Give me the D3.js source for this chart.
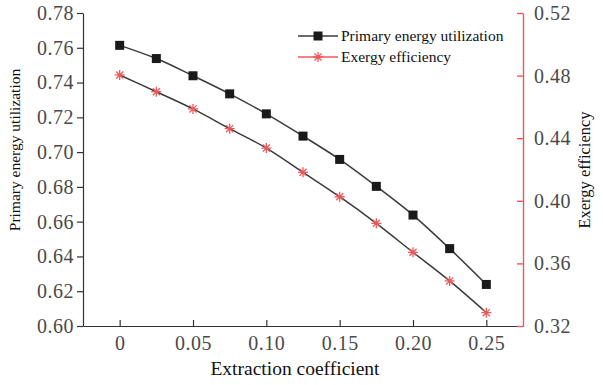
<!DOCTYPE html>
<html>
<head>
<meta charset="utf-8">
<script src="https://cdn.jsdelivr.net/npm/d3@7"></script>
<style>
  body { margin: 0; background: #fff; }
  svg { display: block; }
</style>
</head>
<body>
<script>
"use strict";

// chart values
const extraction = [0, 0.025, 0.05, 0.075, 0.10, 0.125, 0.15, 0.175, 0.20, 0.225, 0.25];
const primaryEnergy = [0.7614, 0.7538, 0.7439, 0.7335, 0.7220, 0.7092, 0.6958, 0.6803, 0.6638, 0.6445, 0.6239];
const exergyEff = [0.4804, 0.4697, 0.4587, 0.4461, 0.4337, 0.4182, 0.4026, 0.3856, 0.3671, 0.3488, 0.3285];
const xTicks = [0, 0.05, 0.10, 0.15, 0.20, 0.25];
const leftTicks = [0.60, 0.62, 0.64, 0.66, 0.68, 0.70, 0.72, 0.74, 0.76, 0.78];
const rightTicks = [0.32, 0.36, 0.40, 0.44, 0.48, 0.52];

const width = 603, height = 385;
const margin = { top: 13, right: 80, bottom: 59, left: 83 };
const red = "#ec5a5c";
const serif = "'Liberation Serif', 'Times New Roman', serif";

const svg = d3.select("body").append("svg")
  .attr("width", width).attr("height", height)
  .attr("font-family", serif);

const x = d3.scaleLinear([-0.025, 0.275], [margin.left, width - margin.right]);
const yL = d3.scaleLinear([0.60, 0.78], [height - margin.bottom, margin.top]);
const yR = d3.scaleLinear([0.32, 0.52], [height - margin.bottom, margin.top]);

// bottom axis
svg.append("g")
  .attr("transform", `translate(0,${height - margin.bottom})`)
  .call(d3.axisBottom(x).tickValues(xTicks).tickSize(-6).tickSizeOuter(0).tickPadding(10)
    .tickFormat((d) => (d === 0 ? "0" : d3.format(".2f")(d))))
  .call((g) => g.select(".domain").attr("stroke", "#333").attr("stroke-width", 1.2))
  .call((g) => g.selectAll(".tick line").attr("stroke", "#333").attr("stroke-width", 1.2))
  .call((g) => g.selectAll("text").attr("font-size", 20).attr("fill", "#4a4a4a")
    .attr("font-family", serif).attr("letter-spacing", 0.5));

// left axis
svg.append("g")
  .attr("transform", `translate(${margin.left},0)`)
  .call(d3.axisLeft(yL).tickValues(leftTicks).tickSize(6).tickSizeOuter(0).tickPadding(3)
    .tickFormat(d3.format(".2f")))
  .call((g) => g.select(".domain").attr("stroke", "#333").attr("stroke-width", 1.2))
  .call((g) => g.selectAll(".tick line").attr("stroke", "#333").attr("stroke-width", 1.2))
  .call((g) => g.selectAll("text").attr("font-size", 20).attr("fill", "#4a4a4a")
    .attr("font-family", serif).attr("letter-spacing", 0.5));

// right axis
svg.append("g")
  .attr("transform", `translate(${width - margin.right},0)`)
  .call(d3.axisRight(yR).tickValues(rightTicks).tickSize(-6).tickSizeOuter(0).tickPadding(11)
    .tickFormat(d3.format(".2f")))
  .call((g) => g.select(".domain").attr("stroke", red).attr("stroke-width", 1.4))
  .call((g) => g.selectAll(".tick line").attr("stroke", red).attr("stroke-width", 1.4))
  .call((g) => g.selectAll("text").attr("font-size", 20).attr("fill", "#4a4a4a")
    .attr("font-family", serif).attr("letter-spacing", 0.5));

// axis titles
svg.append("text")
  .attr("x", (margin.left + width - margin.right) / 2 - 8)
  .attr("y", 375)
  .attr("text-anchor", "middle")
  .attr("font-size", 19.5)
  .attr("fill", "#111")
  .text("Extraction coefficient");

svg.append("text")
  .attr("transform", `translate(20,150) rotate(-90)`)
  .attr("text-anchor", "middle")
  .attr("font-size", 15.5)
  .attr("fill", "#111")
  .text("Primary energy utilization");

svg.append("text")
  .attr("transform", `translate(590,170) rotate(-90)`)
  .attr("text-anchor", "middle")
  .attr("font-size", 16.5)
  .attr("fill", "#111")
  .text("Exergy efficiency");

// lines
const line = (ys, yScale) => d3.line()
  .x((d, i) => x(extraction[i]))
  .y((d) => yScale(d))
  .curve(d3.curveCatmullRom)(ys);

svg.append("path")
  .attr("d", line(primaryEnergy, yL))
  .attr("fill", "none").attr("stroke", "#3a3a3a").attr("stroke-width", 1.5);

svg.append("path")
  .attr("d", line(exergyEff, yR))
  .attr("fill", "none").attr("stroke", "#3a3a3a").attr("stroke-width", 1.5);

// markers
const starPath = (s) => {
  const a = s * 0.7071;
  return `M${-s},0L${s},0M0,${-s}L0,${s}M${-a},${-a}L${a},${a}M${-a},${a}L${a},${-a}`;
};

svg.append("g")
  .selectAll("rect")
  .data(primaryEnergy)
  .join("rect")
  .attr("x", (d, i) => x(extraction[i]) - 4.5)
  .attr("y", (d) => yL(d) - 4.5)
  .attr("width", 9).attr("height", 9)
  .attr("fill", "#1a1a1a");

svg.append("g")
  .selectAll("path")
  .data(exergyEff)
  .join("path")
  .attr("transform", (d, i) => `translate(${x(extraction[i])},${yR(d)})`)
  .attr("d", starPath(5))
  .attr("stroke", red).attr("stroke-width", 1.3).attr("fill", "none");

// legend
const legend = svg.append("g").attr("font-size", 15.5).attr("fill", "#111");
const items = [
  { label: "Primary energy utilization", stroke: "#3a3a3a", mark: "square", y: 36 },
  { label: "Exergy efficiency", stroke: red, mark: "star", y: 57 },
];
items.forEach((it) => {
  legend.append("line")
    .attr("x1", 298).attr("x2", 338).attr("y1", it.y).attr("y2", it.y)
    .attr("stroke", it.stroke).attr("stroke-width", 1.5);
  if (it.mark === "square") {
    legend.append("rect").attr("x", 313.5).attr("y", it.y - 4.5)
      .attr("width", 9).attr("height", 9).attr("fill", "#1a1a1a");
  } else {
    legend.append("path").attr("transform", `translate(318,${it.y})`)
      .attr("d", starPath(5)).attr("stroke", red).attr("stroke-width", 1.3).attr("fill", "none");
  }
  legend.append("text").attr("x", 341).attr("y", it.y + 5).text(it.label);
});
</script>
</body>
</html>
